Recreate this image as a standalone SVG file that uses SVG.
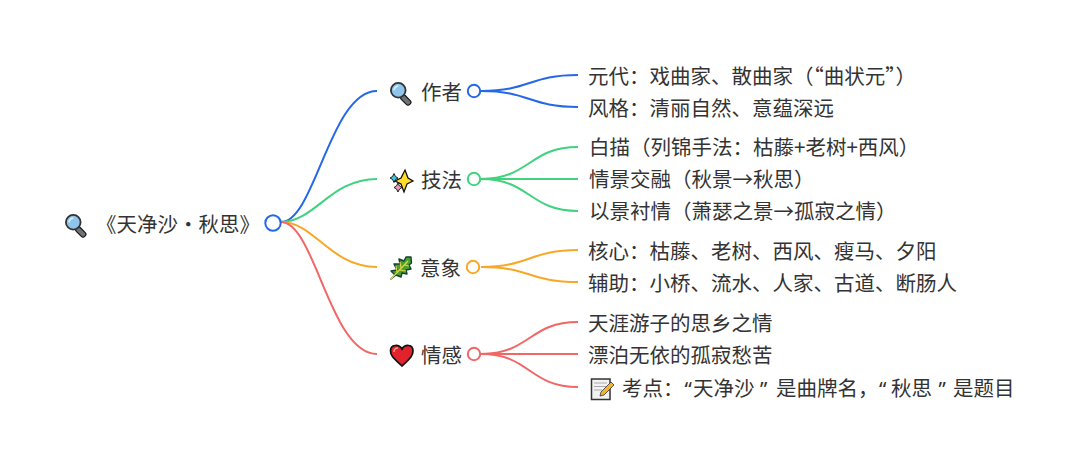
<svg xmlns="http://www.w3.org/2000/svg" width="1080" height="462" viewBox="0 0 1080 462">
<style>
text{font-family:"Noto Sans CJK SC","Noto Sans",sans-serif;font-size:20.5px;fill:#333}
.q{font-family:"Noto Sans",sans-serif}
.c{fill:none;stroke-width:2}
.dot{fill:#fff;stroke-width:2}
.blue{stroke:#2468e8}.green{stroke:#3fd27f}.orange{stroke:#f9a825}.red{stroke:#f26666}
</style>
<defs>
<symbol id="mag" viewBox="0 0 24 24" overflow="visible">
<rect x="13" y="13" width="13" height="6" rx="2.600" transform="rotate(45 14 15)" fill="#6b7378" stroke="#111" stroke-width="1.200"/>
<circle cx="9" cy="9" r="8" fill="#8fc5ea" stroke="#333" stroke-width="2"/>
<path d="M4.500 9a4.500 4.500 0 0 1 4.500-4.500" fill="none" stroke="#d5ecfa" stroke-width="2"/>
</symbol>
</defs>
<g id="connectors">
<path class="c blue" d="M281 222C315 222 330 91 377 91"/>
<path class="c green" d="M281 222C315 222 330 179 377 179"/>
<path class="c orange" d="M281 222C315 222 330 267 377 267"/>
<path class="c red" d="M281 222C315 222 330 354 377 354"/>
<path class="c blue" d="M481 91C530 91 529 75 578 75M481 91C530 91 529 107 578 107"/>
<path class="c green" d="M481 179C530 179 529 147 578 147M481 179H578M481 179C530 179 529 211 578 211"/>
<path class="c orange" d="M481 267C530 267 529 250 578 250M481 267C530 267 529 282 578 282"/>
<path class="c red" d="M481 354C530 354 529 322 578 322M481 354H578M481 354C530 354 529 387 578 387"/>
</g>
<g id="root">
<use href="#mag" x="65" y="214" width="22" height="22"/>
<text x="96" y="231.500">《天净沙・秋思》</text>
<circle class="dot blue" cx="273" cy="223" r="7.700"/>
</g>
<g id="author">
<use href="#mag" x="390" y="82" width="22" height="22"/>
<text x="421" y="99.500">作者</text>
<circle class="dot blue" cx="474" cy="91" r="6.200"/>
</g>
<g id="technique">
<path d="M405 170l3 8 5 3-6 3-3 8-3-8-6-3 6-3z" fill="#ffdf2b" stroke="#111" stroke-width="1.300"/>
<path d="M394 173.500l1.500 3 2.500 1.500-2.500 1.500-1.500 3-1.500-3-2.500-1.500 2.500-1.500z" fill="#3cc4d8" stroke="#111" stroke-width=".9"/>
<path d="M398 183l1.500 3 2.500 1.500-2.500 1.500-1.500 3-1.500-3-2.500-1.500 2.500-1.500z" fill="#f29ac0" stroke="#111" stroke-width=".9"/>
<text x="421" y="187.500">技法</text>
<circle class="dot green" cx="474" cy="179" r="6.200"/>
</g>
<g id="imagery">
<path d="M391 279L395 275L391 271L397 270L394 264L400 264L399 259L404 261L406 257L411 257L411.500 263L409 265L411 269L406 270L407 274L402 273L401 277L396 275Z" fill="#4f9e2f" stroke="#143" stroke-width="1.400" stroke-linejoin="round"/>
<path d="M391 279L408 261M397 272L396 266M401 268L400 262M400 270L406 271M404 265L409 266" fill="none" stroke="#d6d84a" stroke-width="1.200"/>
<text x="420" y="275.500">意象</text>
<circle class="dot orange" cx="473" cy="267" r="6.200"/>
</g>
<g id="emotion">
<path d="M402 366C396 360 390.500 357 390.500 351C390.500 344 399 344 402 349C405 344 413 344 413 351C413 357 408 360 402 366Z" fill="#e2222c" stroke="#111" stroke-width="1.700"/>
<path d="M394 352C394 349 396 348 398 348" fill="none" stroke="#f98" stroke-width="1.500"/>
<text x="421" y="362.500">情感</text>
<circle class="dot red" cx="474" cy="354" r="6.200"/>
</g>
<g id="leaf-1"><text x="588" y="84">元代&#xFF1A;戏曲家、散曲家&#xFF08;“曲状元”&#xFF09;</text></g>
<g id="leaf-2"><text x="588" y="116">风格&#xFF1A;清丽自然、意蕴深远</text></g>
<g id="leaf-3"><text x="589" y="155">白描&#xFF08;列锦手法&#xFF1A;枯藤+老树+西风&#xFF09;</text></g>
<g id="leaf-4"><text x="589" y="187">情景交融&#xFF08;秋景→秋思&#xFF09;</text></g>
<g id="leaf-5"><text x="589" y="219">以景衬情&#xFF08;萧瑟之景→孤寂之情&#xFF09;</text></g>
<g id="leaf-6"><text x="588" y="259">核心&#xFF1A;枯藤、老树、西风、瘦马、夕阳</text></g>
<g id="leaf-7"><text x="588" y="291">辅助&#xFF1A;小桥、流水、人家、古道、断肠人</text></g>
<g id="leaf-8"><text x="588" y="330.500">天涯游子的思乡之情</text></g>
<g id="leaf-9"><text x="588" y="362.500">漂泊无依的孤寂愁苦</text></g>
<g id="leaf-10">
<path d="M591.500 379H610V399.500H591.500Z" fill="#f2f2f2" stroke="#333" stroke-width="1.500"/>
<path d="M594 383H607M594 386.500H606M594 390H602" stroke="#aaa" stroke-width="1"/>
<path d="M600 396l1-4 10-10 3 3-10 10z" fill="#f5b335" stroke="#333" stroke-width=".8"/>
<text x="622" y="395.500">考点&#xFF1A;<tspan class="q" x="684.500">“</tspan><tspan x="693">天净沙</tspan><tspan class="q" x="760">”</tspan><tspan x="776">是曲牌名&#xFF0C;</tspan><tspan class="q" x="879">“</tspan><tspan x="891">秋思</tspan><tspan class="q" x="938.500">”</tspan><tspan x="953">是题目</tspan></text>
</g>
</svg>
